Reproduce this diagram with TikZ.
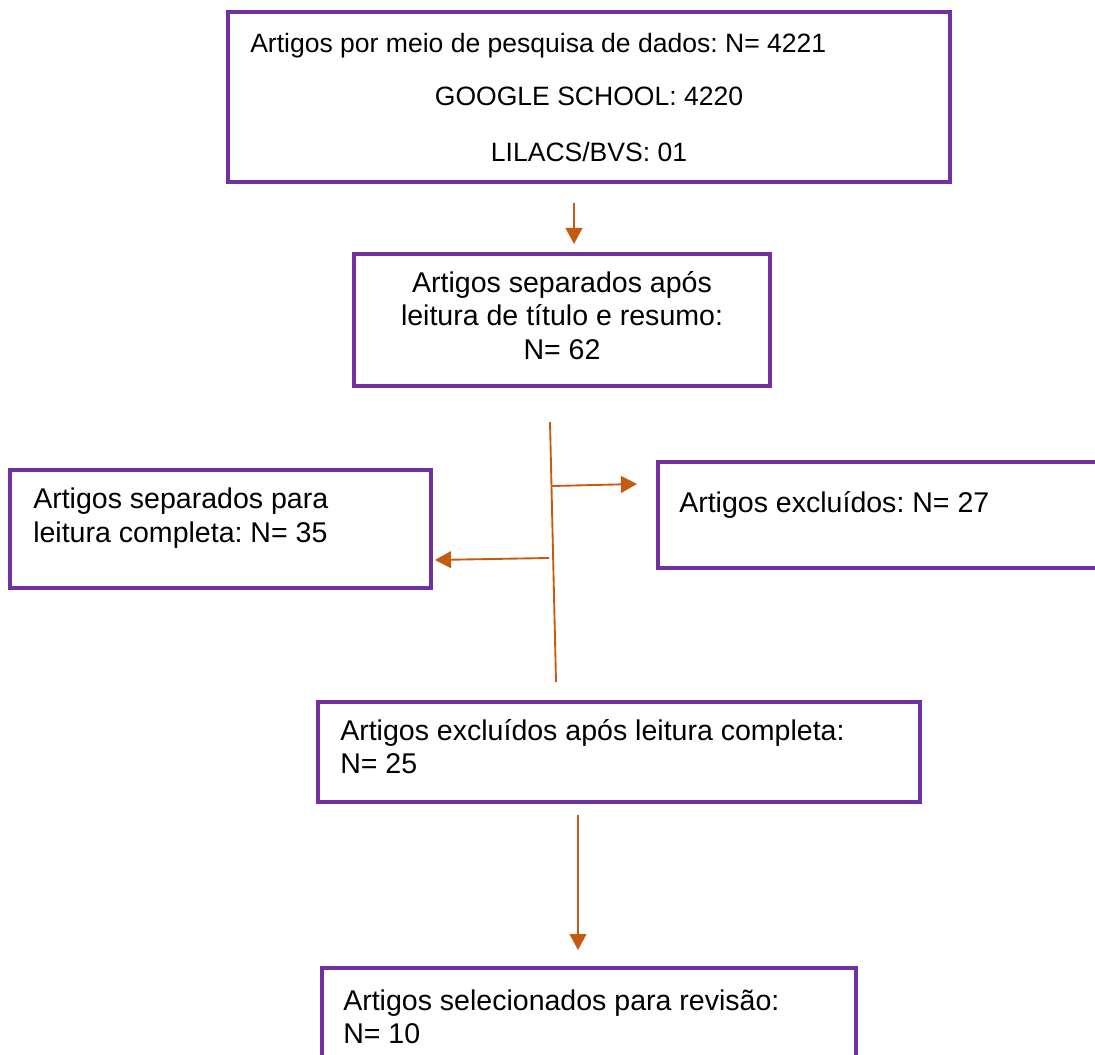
\documentclass[tikz,border=0pt]{standalone}
\usepackage{fontspec}
\setmainfont{Liberation Sans}
\usetikzlibrary{arrows.meta,fit}
\definecolor{boxpurple}{HTML}{7030A0}
\definecolor{arrorange}{HTML}{C55A11}
\frenchspacing
\begin{document}
\begin{tikzpicture}[x=0.75pt,y=-0.75pt,
  box/.style={draw=boxpurple, line width=2.4pt, inner sep=0pt},
  conn/.style={draw=arrorange, line width=1.4pt},
  arr/.style={conn, -{Triangle[length=12pt,width=12.5pt]}},
  txt/.style={anchor=base west, inner sep=0pt, font=\fontsize{21.4pt}{25pt}\selectfont},
  ctxt/.style={txt, anchor=base},
  stxt/.style={anchor=base west, inner sep=0pt, font=\fontsize{19.9pt}{23pt}\selectfont},
  sctxt/.style={stxt, anchor=base}]
\clip (0,0) rectangle (1095,1055);
\fill[white] (0,0) rectangle (1095,1055);

% box 1
\coordinate (b1nw) at (228,12);
\coordinate (b1se) at (950,182);
\node[box, fit={(b1nw) (b1se)}] (b1) {};
\node[stxt] (t1a) at (250,53) {Artigos por meio de pesquisa de dados: N= 4221};
\node[sctxt] (t1b) at (589,106) {GOOGLE SCHOOL: 4220};
\node[sctxt] (t1c) at (589,162) {LILACS/BVS: 01};

% box 2
\coordinate (b2nw) at (354,254);
\coordinate (b2se) at (770,386);
\node[box, fit={(b2nw) (b2se)}] (b2) {};
\node[ctxt] (t2a) at (562,293) {Artigos separados após};
\node[ctxt] (t2b) at (562,326) {leitura de título e resumo:};
\node[ctxt] (t2c) at (562,359) {N= 62};

% left box
\coordinate (b3nw) at (10,470);
\coordinate (b3se) at (431,588);
\node[box, fit={(b3nw) (b3se)}] (b3) {};
\node[txt] (t3a) at (33,508) {Artigos separados para};
\node[txt] (t3b) at (33,542) {leitura completa: N= 35};

% right box
\coordinate (b4nw) at (658,462);
\coordinate (b4se) at (1110,568);
\node[box, fit={(b4nw) (b4se)}] (b4) {};
\node[txt] (t4a) at (679,512) {Artigos excluídos: N= 27};

% box 5
\coordinate (b5nw) at (318,702);
\coordinate (b5se) at (920,802);
\node[box, fit={(b5nw) (b5se)}] (b5) {};
\node[txt] (t5a) at (340,740) {Artigos excluídos após leitura completa:};
\node[txt] (t5b) at (340,773) {N= 25};

% box 6
\coordinate (b6nw) at (322,968);
\coordinate (b6se) at (856,1075);
\node[box, fit={(b6nw) (b6se)}] (b6) {};
\node[txt] (t6a) at (343,1010) {Artigos selecionados para revisão:};
\node[txt] (t6b) at (343,1043) {N= 10};

% connectors
\coordinate (a1s) at (574,203);
\coordinate (a1e) at (574,244);
\draw[arr] (a1s) -- (a1e);

\coordinate (vt) at (550,422);
\coordinate (vb) at (556,682);
\draw[conn] (vt) -- (vb);

\coordinate (r1s) at (552,486);
\coordinate (r1e) at (637,484);
\draw[arr] (r1s) -- (r1e);

\coordinate (l1s) at (549,558);
\coordinate (l1e) at (435,560);
\draw[arr] (l1s) -- (l1e);

\coordinate (a2s) at (578,815);
\coordinate (a2e) at (578,950);
\draw[arr] (a2s) -- (a2e);
\end{tikzpicture}
\end{document}
